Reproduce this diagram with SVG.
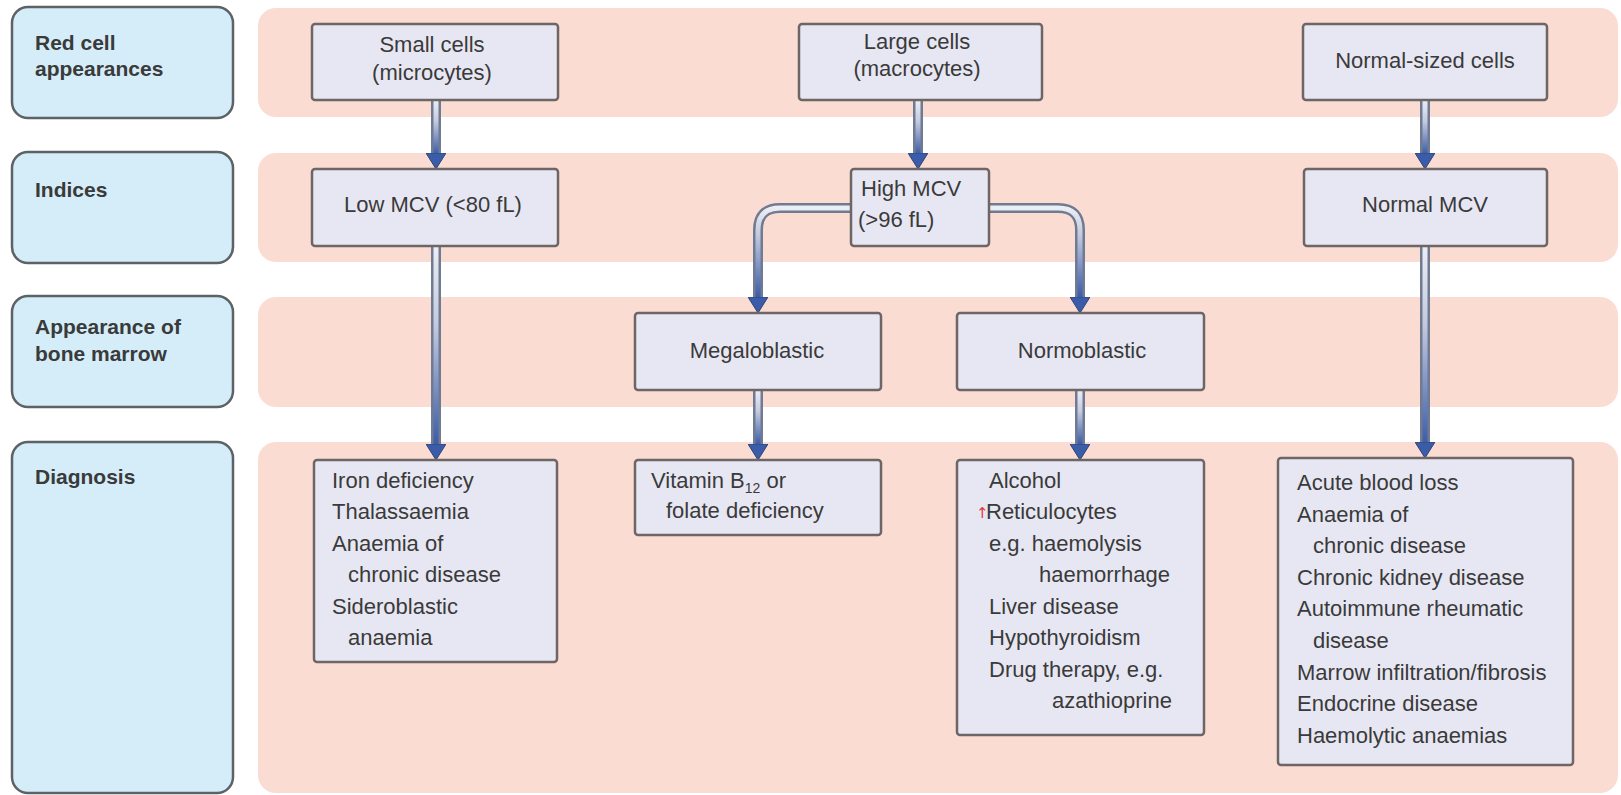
<svg xmlns="http://www.w3.org/2000/svg" width="1621" height="795" viewBox="0 0 1621 795">
<style>
.band{fill:#fadcd3}
.lab rect{fill:#d4edf9;stroke:#5c6266;stroke-width:2.5}
.lab text{font-family:"Liberation Sans",Arial,sans-serif;font-weight:bold;font-size:21px;fill:#3a3a3a}
.nd rect{fill:#e7e7f3;stroke:#6e6565;stroke-width:2.5}
.nd text{font-family:"Liberation Sans",Arial,sans-serif;font-size:22px;fill:#3a3a3a}
.c text{font-family:"Liberation Sans",Arial,sans-serif}
.mid{text-anchor:middle}
.outer{fill:none;stroke:#707a90;stroke-width:10}
.inner{fill:none;stroke-width:5}
</style>
<defs>
<marker id="ah" markerUnits="userSpaceOnUse" viewBox="0 0 16 20" refX="0" refY="10" markerWidth="16" markerHeight="20" orient="auto">
<polygon points="0,0 16,10 0,20" fill="#3b5ca8" stroke="#2d4478" stroke-width="1"/>
</marker>
<linearGradient id="g1" gradientUnits="userSpaceOnUse" x1="0" y1="100" x2="0" y2="154"><stop offset="0" stop-color="#eceef5"/><stop offset="0.4" stop-color="#c3cadf"/><stop offset="1" stop-color="#3b5ca8"/></linearGradient>
<linearGradient id="g2" gradientUnits="userSpaceOnUse" x1="0" y1="246" x2="0" y2="444"><stop offset="0" stop-color="#eceef5"/><stop offset="0.4" stop-color="#c3cadf"/><stop offset="1" stop-color="#3b5ca8"/></linearGradient>
<linearGradient id="g3" gradientUnits="userSpaceOnUse" x1="0" y1="208" x2="0" y2="297"><stop offset="0" stop-color="#eceef5"/><stop offset="0.3" stop-color="#c3cadf"/><stop offset="1" stop-color="#3b5ca8"/></linearGradient>
<linearGradient id="g4" gradientUnits="userSpaceOnUse" x1="0" y1="390" x2="0" y2="444"><stop offset="0" stop-color="#eceef5"/><stop offset="0.4" stop-color="#c3cadf"/><stop offset="1" stop-color="#3b5ca8"/></linearGradient>
</defs>
<rect width="1621" height="795" fill="#ffffff"/>
<g id="bands">
<rect class="band" x="258" y="8" width="1360" height="109" rx="18"/>
<rect class="band" x="258" y="153" width="1360" height="109" rx="18"/>
<rect class="band" x="258" y="297" width="1360" height="110" rx="18"/>
<rect class="band" x="258" y="442" width="1360" height="351" rx="18"/>
</g>
<g id="lab-red" class="lab"><rect x="12" y="7" width="221" height="111" rx="16"/><text x="35" y="50">Red cell</text><text x="35" y="76">appearances</text></g>
<g id="lab-ind" class="lab"><rect x="12" y="152" width="221" height="111" rx="16"/><text x="35" y="197">Indices</text></g>
<g id="lab-bm" class="lab"><rect x="12" y="296" width="221" height="111" rx="16"/><text x="35" y="334">Appearance of</text><text x="35" y="361">bone marrow</text></g>
<g id="lab-dx" class="lab"><rect x="12" y="442" width="221" height="351" rx="16"/><text x="35" y="484">Diagnosis</text></g>

<g id="connectors" class="c">
<path class="outer" d="M436,101 V153"/><path class="inner" stroke="url(#g1)" d="M436,100 V153" marker-end="url(#ah)"/>
<path class="outer" d="M918,101 V153"/><path class="inner" stroke="url(#g1)" d="M918,100 V153" marker-end="url(#ah)"/>
<path class="outer" d="M1425,101 V153"/><path class="inner" stroke="url(#g1)" d="M1425,100 V153" marker-end="url(#ah)"/>
<path class="outer" d="M436,247 V444"/><path class="inner" stroke="url(#g2)" d="M436,246 V444" marker-end="url(#ah)"/>
<path class="outer" d="M1425,247 V442"/><path class="inner" stroke="url(#g2)" d="M1425,246 V442" marker-end="url(#ah)"/>
<path class="outer" d="M851,208 H780 Q758,208 758,230 V297"/><path class="inner" stroke="url(#g3)" d="M852,208 H780 Q758,208 758,230 V297" marker-end="url(#ah)"/>
<path class="outer" d="M989,208 H1058 Q1080,208 1080,230 V297"/><path class="inner" stroke="url(#g3)" d="M988,208 H1058 Q1080,208 1080,230 V297" marker-end="url(#ah)"/>
<path class="outer" d="M758,391 V444"/><path class="inner" stroke="url(#g4)" d="M758,390 V444" marker-end="url(#ah)"/>
<path class="outer" d="M1080,391 V444"/><path class="inner" stroke="url(#g4)" d="M1080,390 V444" marker-end="url(#ah)"/>
</g>

<g id="n-small" class="nd"><rect x="312" y="24" width="246" height="76" rx="3"/><text class="mid" x="432" y="52">Small cells</text><text class="mid" x="432" y="80">(microcytes)</text></g>
<g id="n-large" class="nd"><rect x="799" y="24" width="243" height="76" rx="3"/><text class="mid" x="917" y="49">Large cells</text><text class="mid" x="917" y="76">(macrocytes)</text></g>
<g id="n-normsz" class="nd"><rect x="1303" y="24" width="244" height="76" rx="3"/><text class="mid" x="1425" y="68">Normal-sized cells</text></g>
<g id="n-low" class="nd"><rect x="312" y="169" width="246" height="77" rx="3"/><text class="mid" x="433" y="212">Low MCV (&lt;80 fL)</text></g>
<g id="n-high" class="nd"><rect x="851" y="169" width="138" height="77" rx="3"/><text x="861" y="196">High MCV</text><text x="858" y="227">(&gt;96 fL)</text></g>
<g id="n-normmcv" class="nd"><rect x="1304" y="169" width="243" height="77" rx="3"/><text class="mid" x="1425" y="212">Normal MCV</text></g>
<g id="n-mega" class="nd"><rect x="635" y="313" width="246" height="77" rx="3"/><text class="mid" x="757" y="358">Megaloblastic</text></g>
<g id="n-normo" class="nd"><rect x="957" y="313" width="247" height="77" rx="3"/><text class="mid" x="1082" y="358">Normoblastic</text></g>
<g id="n-iron" class="nd"><rect x="314" y="460" width="243" height="202" rx="3"/>
<text x="332" y="488">Iron deficiency</text>
<text x="332" y="519">Thalassaemia</text>
<text x="332" y="551">Anaemia of</text>
<text x="348" y="582">chronic disease</text>
<text x="332" y="614">Sideroblastic</text>
<text x="348" y="645">anaemia</text></g>
<g id="n-vit" class="nd"><rect x="635" y="460" width="246" height="75" rx="3"/>
<text x="651" y="488">Vitamin B<tspan font-size="14" dy="5">12</tspan><tspan dy="-5"> or</tspan></text>
<text x="666" y="518">folate deficiency</text></g>
<g id="n-alc" class="nd"><rect x="957" y="460" width="247" height="275" rx="3"/>
<text x="976" y="518" style="font-family:'DejaVu Sans',sans-serif;font-size:15px;fill:#e0383c">↑</text>
<text x="989" y="488">Alcohol</text>
<text x="986" y="519">Reticulocytes</text>
<text x="989" y="551">e.g. haemolysis</text>
<text x="1039" y="582">haemorrhage</text>
<text x="989" y="614">Liver disease</text>
<text x="989" y="645">Hypothyroidism</text>
<text x="989" y="677">Drug therapy, e.g.</text>
<text x="1052" y="708">azathioprine</text></g>
<g id="n-acute" class="nd"><rect x="1278" y="458" width="295" height="307" rx="3"/>
<text x="1297" y="490">Acute blood loss</text>
<text x="1297" y="522">Anaemia of</text>
<text x="1313" y="553">chronic disease</text>
<text x="1297" y="585">Chronic kidney disease</text>
<text x="1297" y="616">Autoimmune rheumatic</text>
<text x="1313" y="648">disease</text>
<text x="1297" y="680">Marrow infiltration/fibrosis</text>
<text x="1297" y="711">Endocrine disease</text>
<text x="1297" y="743">Haemolytic anaemias</text></g>
</svg>
